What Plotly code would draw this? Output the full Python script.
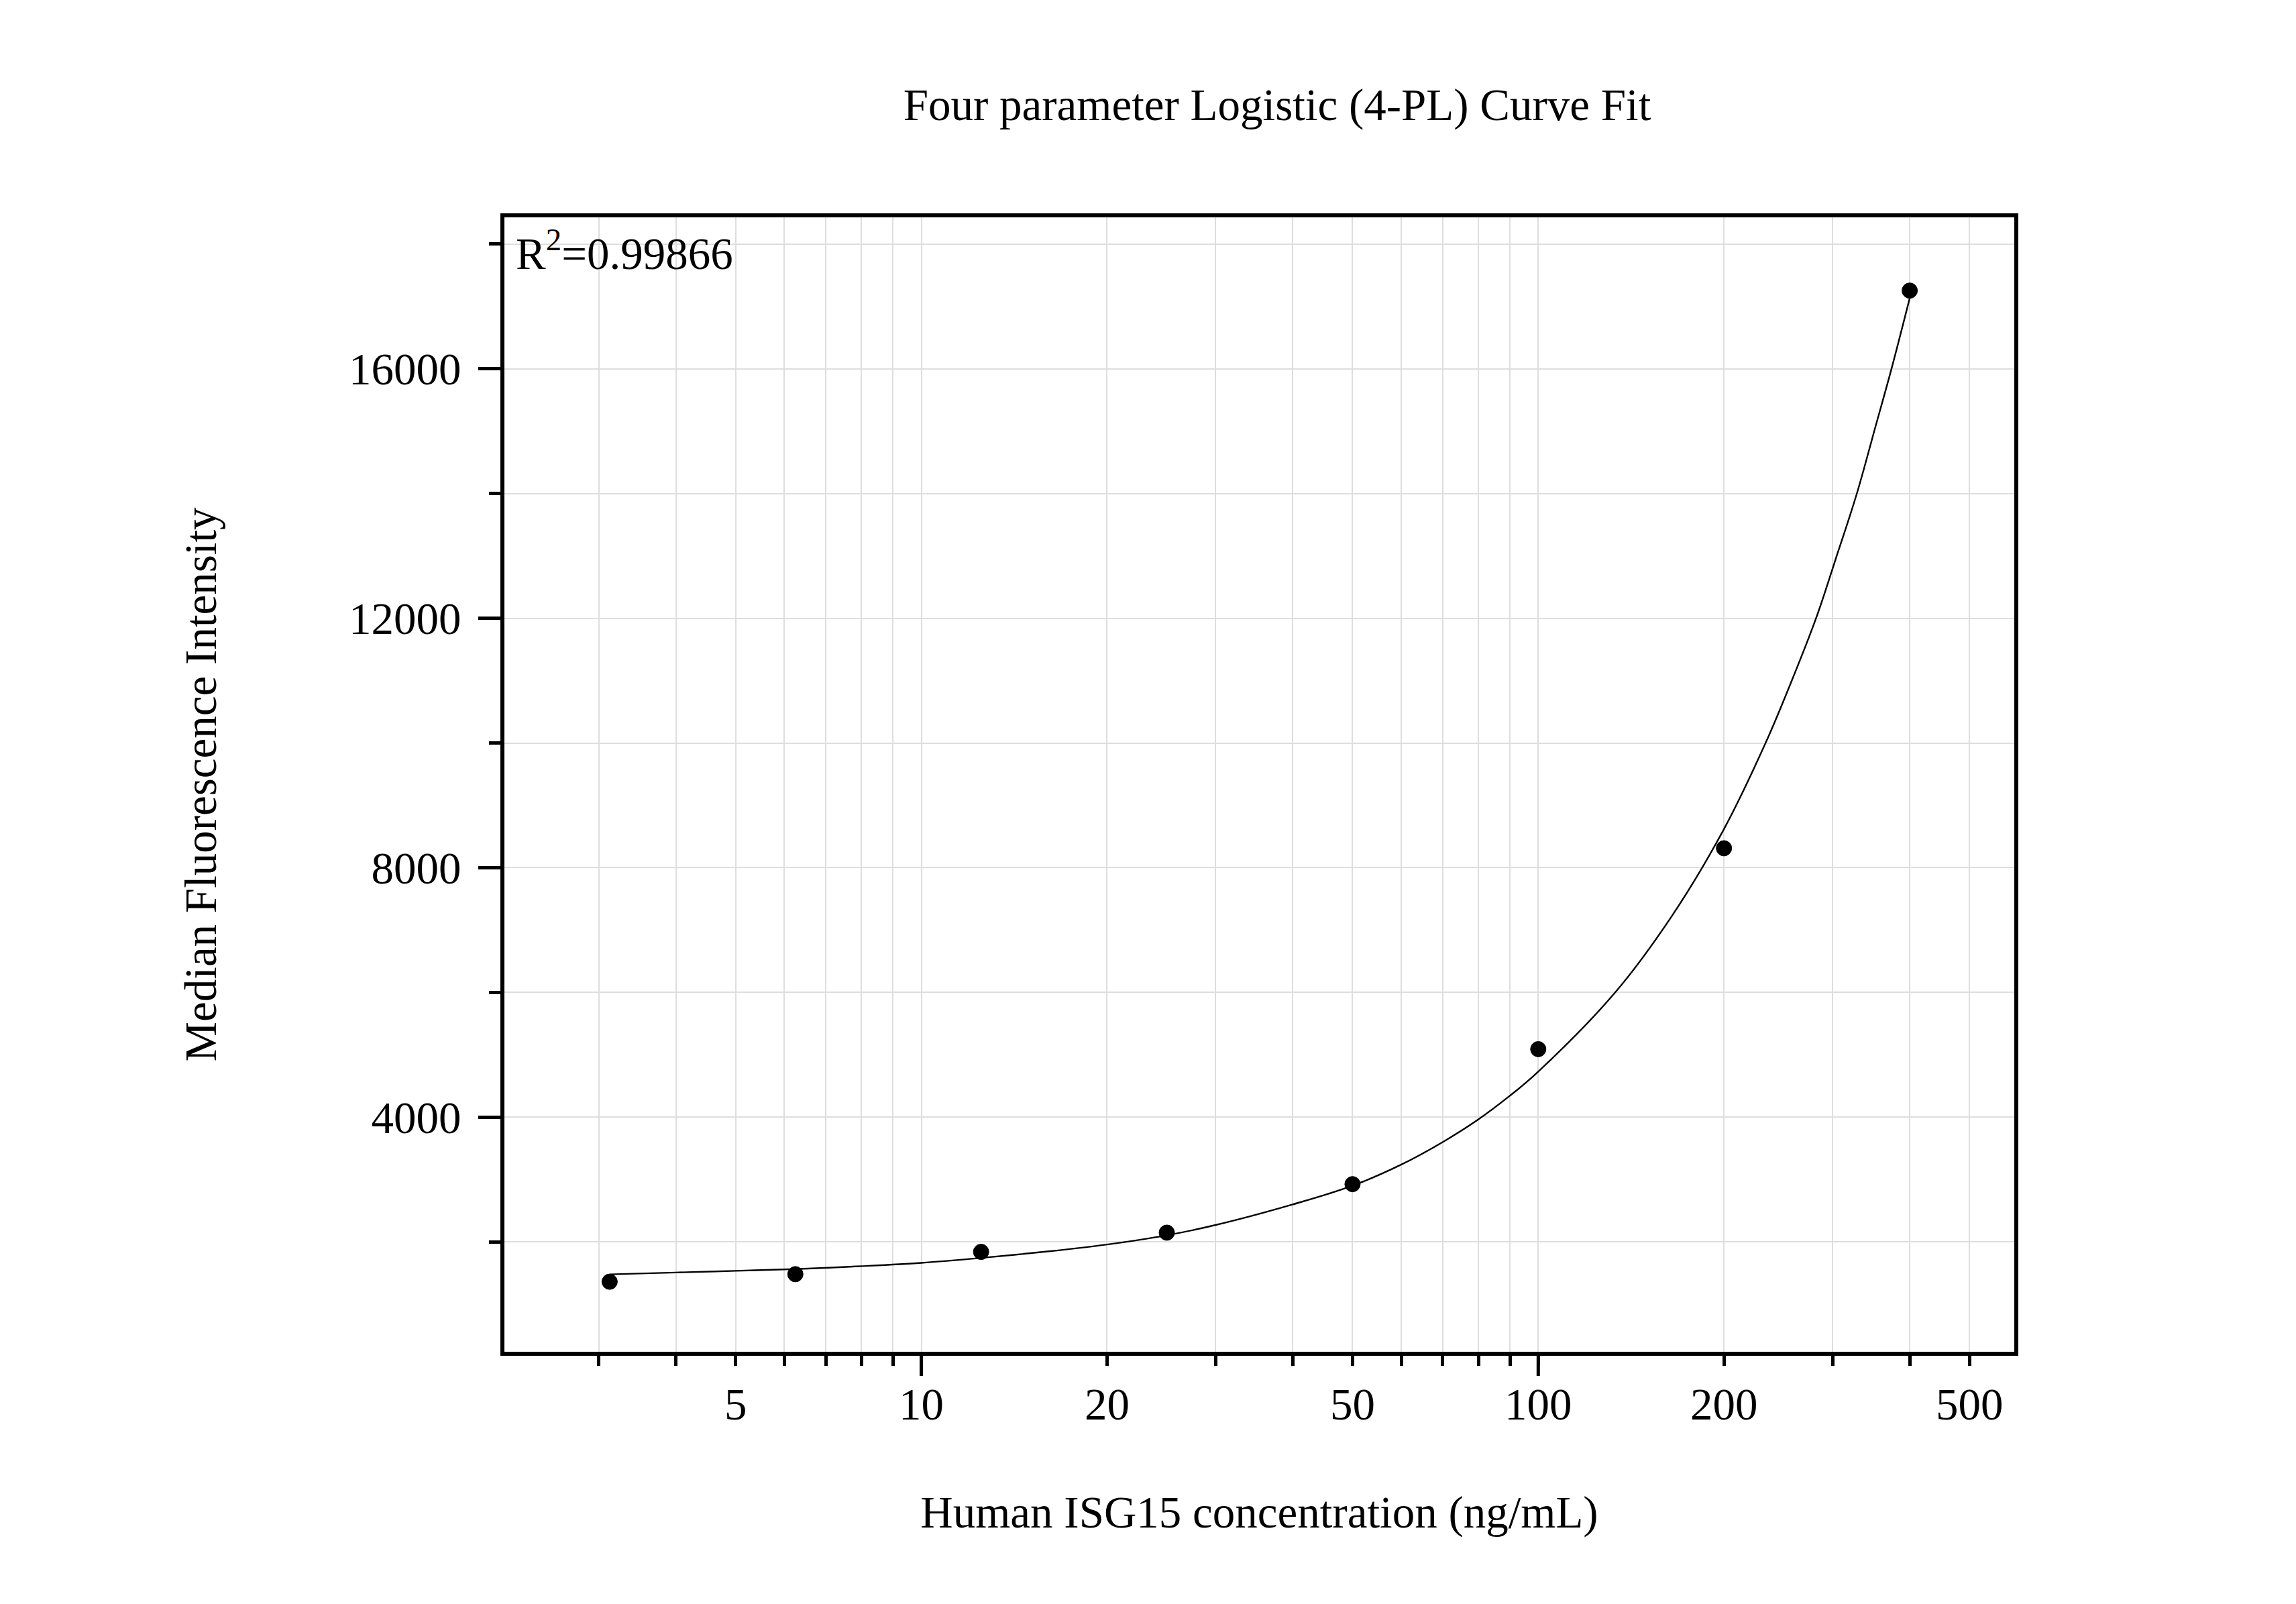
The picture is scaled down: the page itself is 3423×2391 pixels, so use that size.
import math
import plotly.graph_objects as go

# standards: concentration (ng/mL) and measured median fluorescence intensity
conc = [3.125, 6.25, 12.5, 25, 50, 100, 200, 400]
mfi = [1360, 1481, 1839, 2147, 2925, 5090, 8312, 17255]

# fitted 4-PL curve
curve_x = [3.125, 4, 5, 6.25, 8, 10, 12.5, 16, 20, 25, 30, 40, 50, 60, 70, 80, 90,
           100, 133, 164, 200, 233.6, 257.8, 282, 302.8, 328.4, 351.6, 373.7, 400]
curve_y = [1478, 1508, 1535, 1563, 1610, 1663, 1742, 1845, 1957, 2105, 2270, 2600, 2900,
           3240, 3600, 3965, 4345, 4730, 5990, 7200, 8620, 10000, 11009, 12000, 12921,
           14000, 15054, 16000, 17132]

x_labels = [5, 10, 20, 50, 100, 200, 500]
x_major = [10, 100]
x_ticks = [3, 4, 5, 6, 7, 8, 9, 10, 20, 30, 40, 50, 60, 70, 80, 90, 100,
           200, 300, 400, 500]
y_major = [4000, 8000, 12000, 16000]
y_minor = [2000, 6000, 10000, 14000, 18000]
r_squared = "0.99866"

FONT = "Liberation Serif"
FS = 67
GRID = "#dedede"
PLOT_H = 2391 - 316 - 384
xrange_ = [math.log10(2.11), math.log10(591)]
yrange_ = [237, 18430]

fig = go.Figure()
fig.add_trace(go.Scatter(x=curve_x, y=curve_y, mode="lines", line_shape="spline",
                         line=dict(color="black", width=2.4), showlegend=False))
fig.add_trace(go.Scatter(x=conc, y=mfi, mode="markers",
                         marker=dict(color="black", size=23,
                                     line=dict(color="black", width=1)),
                         showlegend=False))

fig.update_layout(
    width=3423, height=2391,
    margin=dict(l=744, r=428, t=316, b=384),
    paper_bgcolor="white", plot_bgcolor="white",
    font=dict(family=FONT, size=FS, color="black"),
    title=dict(text="Four parameter Logistic (4-PL) Curve Fit",
               font=dict(family=FONT, size=FS),
               x=1896 / 3423, xref="container", xanchor="center",
               y=1 - 148 / 2391, yref="container", yanchor="middle"),
    xaxis=dict(type="log", range=xrange_, tickvals=x_ticks,
               ticktext=[str(v) if v in x_labels else "" for v in x_ticks],
               ticks="outside", ticklen=15, tickwidth=5, tickcolor="black",
               ticklabelstandoff=0,
               showgrid=True, gridcolor=GRID, gridwidth=2.2, zeroline=False,
               showline=True, linecolor="black", linewidth=6, mirror=True,
               title=dict(text="Human ISG15 concentration (ng/mL)",
                          font=dict(family=FONT, size=FS), standoff=103)),
    yaxis=dict(range=yrange_, tickvals=y_major, ticktext=[str(v) for v in y_major],
               ticks="outside", ticklen=33, tickwidth=5, tickcolor="black",
               ticklabelstandoff=12,
               showgrid=True, gridcolor=GRID, gridwidth=2.2, zeroline=False,
               showline=True, linecolor="black", linewidth=6, mirror=True,
               minor=dict(tickvals=y_minor, ticks="outside", ticklen=17, tickwidth=5,
                          tickcolor="black", showgrid=True, gridcolor=GRID,
                          gridwidth=2.2),
               title=dict(text="Median Fluorescence Intensity",
                          font=dict(family=FONT, size=FS), standoff=178)),
)

# longer ticks at the decades (10, 100)
for v in x_major:
    fig.add_shape(type="line", xref="x", yref="paper", x0=v, x1=v,
                  y0=0, y1=-36 / PLOT_H, layer="above",
                  line=dict(color="black", width=5))

fig.add_annotation(text="R<sup>2</sup>=" + r_squared, xref="paper", yref="paper",
                   x=(759 - 744) / 2251, y=(2007 - 365) / 1691,
                   xanchor="left", yanchor="middle", showarrow=False,
                   font=dict(family=FONT, size=FS, color="black"))

fig.write_html("out.html")
